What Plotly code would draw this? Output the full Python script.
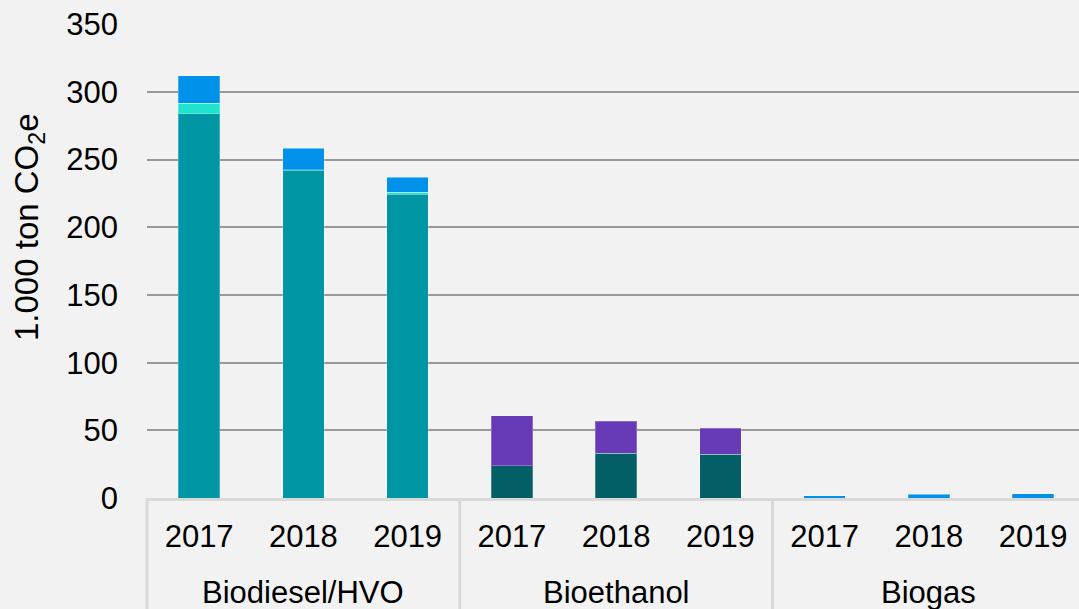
import plotly.graph_objects as go

group_names = ["Biodiesel/HVO", "Bioethanol", "Biogas"]
year_labels = ["2017", "2018", "2019"]
categories = [f"{g} {y}" for g in group_names for y in year_labels]
tick_text = year_labels * 3

# stacked series (1.000 ton CO2e)
teal_vals = [284, 242, 224.5, 0, 0, 0, 0, 0, 0]
cyan_vals = [7.5, 0.4, 1.3, 0, 0, 0, 0, 0, 0]
blue_vals = [20.5, 16, 11, 0, 0, 0, 1.7, 2.7, 3.2]
darkteal_vals = [0, 0, 0, 23.9, 33.2, 32.3, 0, 0, 0]
purple_vals = [0, 0, 0, 36.7, 23.4, 19.2, 0, 0, 0]

series = [
    ("Series 1", teal_vals, "#0096A3"),
    ("Series 2", cyan_vals, "#1EE3CF"),
    ("Series 3", darkteal_vals, "#045E66"),
    ("Series 4", blue_vals, "#0091EA"),
    ("Series 5", purple_vals, "#673AB7"),
]

fig = go.Figure()
for name, vals, color in series:
    fig.add_trace(go.Bar(
        x=categories, y=vals, name=name,
        marker=dict(color=color, line=dict(color="rgba(255,255,255,0.25)", width=1)),
        showlegend=False,
    ))

font = dict(family="Liberation Sans, Arial, sans-serif", size=31, color="#000000")

W, H = 1079, 609
L, T, B = 147, 24, 111
plot_h = H - T - B
plot_w = W - L

def py(page_y):
    return (498 - page_y) / plot_h

def px(page_x):
    return (page_x - 147) / plot_w

shapes = [dict(type="line", xref="paper", yref="paper", x0=0, x1=0,
               y0=0, y1=py(609), line=dict(color="#D9D9D9", width=3))]
for b in [2.5, 5.5]:
    shapes.append(dict(type="line", xref="x", yref="paper", x0=b, x1=b,
                       y0=0, y1=py(609), line=dict(color="#D9D9D9", width=3)))

annotations = [dict(
    text="1.000 ton CO<sub>2</sub>e",
    textangle=-90, font=dict(font, size=33),
    xref="paper", yref="paper",
    x=px(29), y=py(227),
    xanchor="center", yanchor="middle", showarrow=False,
)]
for i, g in enumerate(group_names):
    annotations.append(dict(
        text=g, font=font, xref="x", yref="paper",
        x=categories[3 * i + 1], y=py(592),
        xanchor="center", yanchor="middle", showarrow=False,
    ))

fig.update_layout(
    barmode="stack",
    bargap=0.6,
    width=W, height=H,
    margin=dict(l=L, r=0, t=T, b=B, autoexpand=False),
    paper_bgcolor="#F2F2F2",
    plot_bgcolor="#F2F2F2",
    font=font,
    xaxis=dict(
        type="category",
        range=[-0.5, 8.44],
        tickvals=categories, ticktext=tick_text,
        showline=True, linecolor="#D9D9D9", linewidth=3,
        showgrid=False, ticks="",
        tickfont=font,
        ticklabelstandoff=9,
    ),
    yaxis=dict(
        range=[0, 350.2],
        tickvals=[0, 50, 100, 150, 200, 250, 300, 350],
        showgrid=True, gridcolor="#999999", gridwidth=2,
        zeroline=False, showline=False,
        tickfont=font,
        ticklabelstandoff=28,
    ),
    shapes=shapes,
    annotations=annotations,
)

fig.write_html(
    "out.html",
    config={"displayModeBar": False},
    post_script="document.body.style.margin='0';document.body.style.overflow='hidden';",
)
